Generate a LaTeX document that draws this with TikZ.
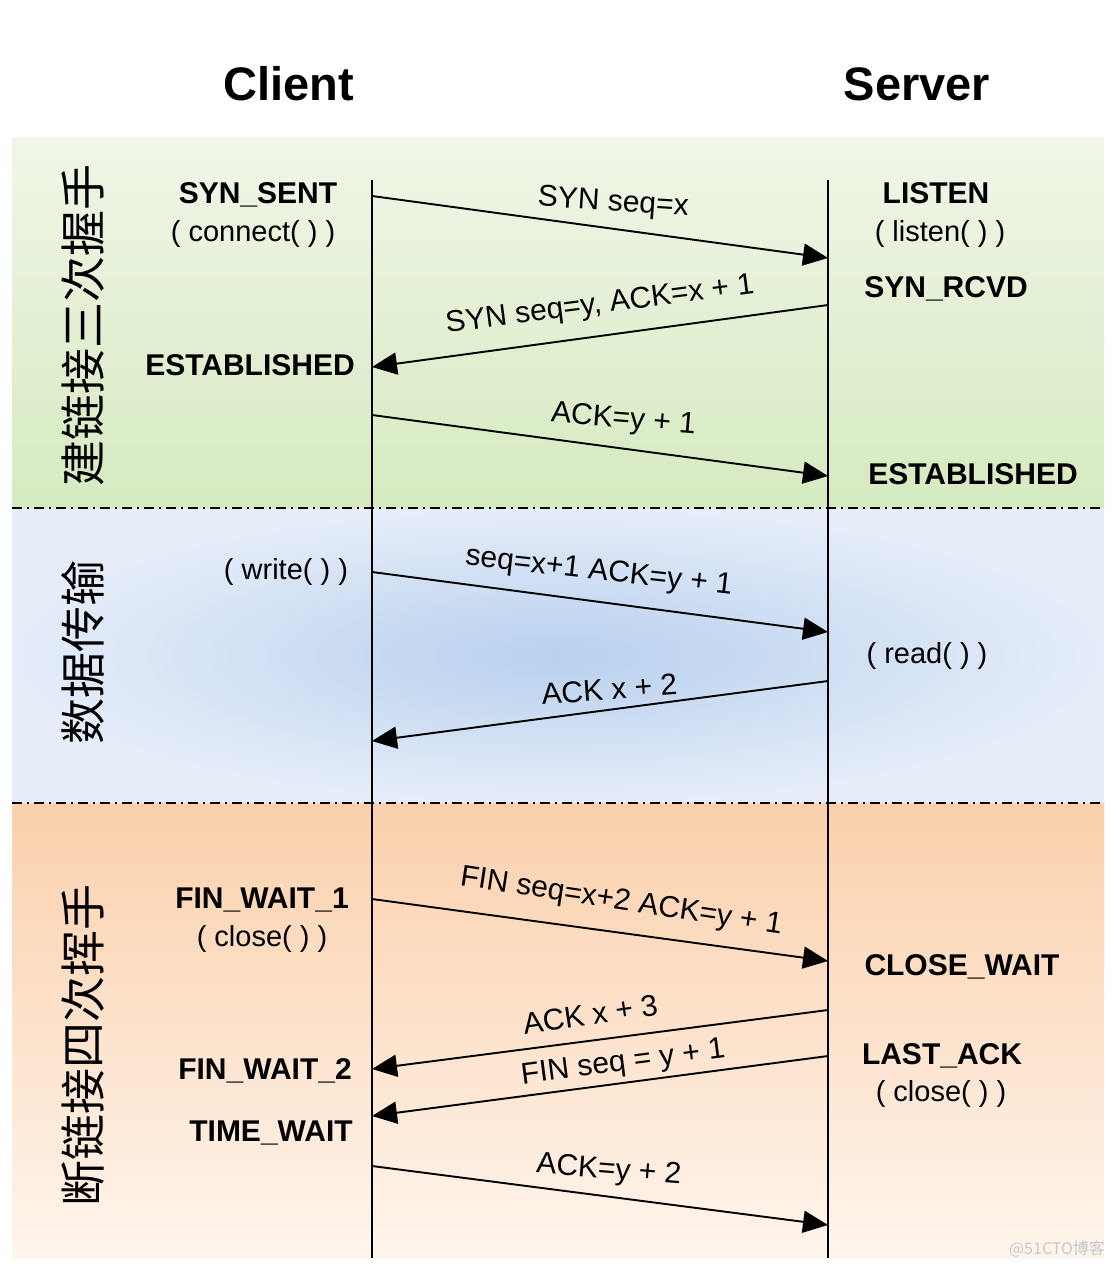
\documentclass[tikz,border=0pt]{standalone}
\usepackage{fontspec}
\setmainfont{Liberation Sans}
\newfontfamily\cjk{Noto Sans CJK SC}
\usetikzlibrary{arrows.meta}
\definecolor{gtop}{RGB}{240,246,232}
\definecolor{gbot}{RGB}{214,234,192}
\definecolor{bin}{RGB}{184,208,238}
\definecolor{bout}{RGB}{230,237,249}
\definecolor{otop}{RGB}{251,208,172}
\definecolor{obot}{RGB}{254,245,237}
\definecolor{wm}{RGB}{200,200,200}
\begin{document}
\begin{tikzpicture}[x=1pt,y=-1pt,
  msg/.style={line width=1.9pt, -{Triangle[length=25pt,width=22pt]}},
  lbl/.style={anchor=base, font=\fontsize{30}{30}\selectfont, inner sep=0pt},
  state/.style={anchor=base, font=\fontsize{30}{30}\selectfont\bfseries, inner sep=0pt},
  call/.style={anchor=base, font=\fontsize{29}{29}\selectfont, inner sep=0pt},
  life/.style={line width=2pt},
  sepline/.style={line width=2pt, dash pattern=on 10pt off 5pt on 2pt off 5pt},
  phase/.style={rotate=90, font=\cjk\fontsize{46}{46}\selectfont, inner sep=0pt},
  head/.style={anchor=base, font=\fontsize{47}{47}\selectfont\bfseries, inner sep=0pt}]
\useasboundingbox (0,0) rectangle (1116,1266);
\fill[white] (0,0) rectangle (1116,1266);
% bands
\shade[top color=gtop, bottom color=gbot] (12,137) rectangle (1104,508);
\shade[inner color=bin, outer color=bout] (12,508) rectangle (1104,803);
\shade[top color=otop, bottom color=obot] (12,803) rectangle (1104,1258);
% separators
\coordinate (sepA1) at (12,508);
\coordinate (sepA2) at (1104,508);
\coordinate (sepB1) at (12,803);
\coordinate (sepB2) at (1104,803);
\draw[sepline] (sepA1) -- (sepA2);
\draw[sepline] (sepB1) -- (sepB2);
% headers
\node[head] (client) at (289,100) {Client};
\node[head] (server) at (917,100) {Server};
% phase labels
\node[phase] (ph1) at (83,325) {建链接三次握手};
\node[phase] (ph2) at (83,652) {数据传输};
\node[phase] (ph3) at (83,1045) {断链接四次挥手};
% lifelines
\coordinate (ctop) at (372,180);
\coordinate (cbot) at (372,1258);
\coordinate (stop) at (828,180);
\coordinate (sbot) at (828,1258);
\draw[life] (ctop) -- (cbot);
\draw[life] (stop) -- (sbot);
% message end points
\coordinate (c1) at (372,196); \coordinate (s1) at (828,258);
\coordinate (s2) at (828,305); \coordinate (c2) at (372,367);
\coordinate (c3) at (372,415); \coordinate (s3) at (828,476);
\coordinate (c4) at (372,572); \coordinate (s4) at (828,632);
\coordinate (s5) at (828,681); \coordinate (c5) at (372,741);
\coordinate (c6) at (372,899); \coordinate (s6) at (828,961);
\coordinate (s7) at (828,1010); \coordinate (c7) at (372,1069);
\coordinate (s8) at (828,1056); \coordinate (c8) at (372,1116);
\coordinate (c9) at (372,1166); \coordinate (s9) at (828,1225);
% messages
\draw[msg] (c1) -- node[lbl, pos=0.528, yshift=18pt, rotate=-3.7] (m1) {SYN seq=x} (s1);
\draw[msg] (s2) -- node[lbl, pos=0.498, yshift=23pt, rotate=7.3] (m2) {SYN seq=y, ACK=x + 1} (c2);
\draw[msg] (c3) -- node[lbl, pos=0.55, yshift=21pt, rotate=-4.7] (m3) {ACK=y + 1} (s3);
\draw[msg] (c4) -- node[lbl, pos=0.496, yshift=22pt, rotate=-6.4] (m4) {seq=x+1 ACK=y + 1} (s4);
\draw[msg] (s5) -- node[lbl, pos=0.478, yshift=10pt, rotate=4.2] (m5) {ACK x + 2} (c5);
\draw[msg] (c6) -- node[lbl, pos=0.544, yshift=23pt, rotate=-8.7] (m6) {FIN seq=x+2 ACK=y + 1} (s6);
\draw[msg] (s7) -- node[lbl, pos=0.518, yshift=16pt, rotate=8.4] (m7) {ACK x + 3} (c7);
\draw[msg] (s8) -- node[lbl, pos=0.447, yshift=12pt, rotate=7.4] (m8) {FIN seq = y + 1} (c8);
\draw[msg] (c9) -- node[lbl, pos=0.518, yshift=18pt, rotate=-4.5] (m9) {ACK=y + 2} (s9);
% client states
\node[state] (synsent) at (258,203) {SYN\_SENT};
\node[call] (connect) at (253,241) {( connect( ) )};
\node[state] (estc) at (250,375) {ESTABLISHED};
\node[call] (write) at (286,579) {( write( ) )};
\node[state] (fw1) at (262,908) {FIN\_WAIT\_1};
\node[call] (closec) at (262,946) {( close( ) )};
\node[state] (fw2) at (265,1079) {FIN\_WAIT\_2};
\node[state] (tw) at (271,1141) {TIME\_WAIT};
% server states
\node[state] (listen) at (936,203) {LISTEN};
\node[call] (listencall) at (940,241) {( listen( ) )};
\node[state] (synrcvd) at (946,297) {SYN\_RCVD};
\node[state] (ests) at (973,484) {ESTABLISHED};
\node[call] (read) at (927,663) {( read( ) )};
\node[state] (cw) at (962,975) {CLOSE\_WAIT};
\node[state] (la) at (942,1064) {LAST\_ACK};
\node[call] (closes) at (941,1101) {( close( ) )};
% watermark
\node[anchor=base, text=wm, font=\cjk\fontsize{16}{16}\selectfont, inner sep=0pt] (wmark) at (1057,1254) {@51CTO博客};
\end{tikzpicture}
\end{document}
